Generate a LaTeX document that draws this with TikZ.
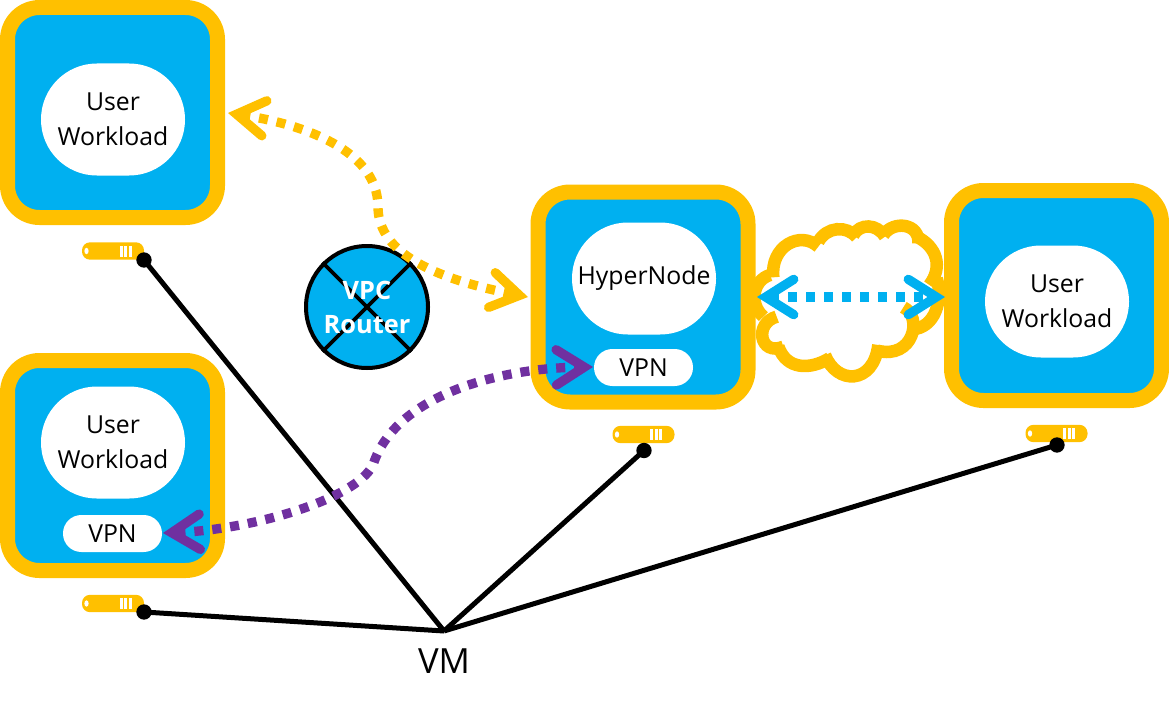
\documentclass[tikz,border=0pt]{standalone}
\usepackage{fontspec}
\setmainfont{Open Sans}
\usetikzlibrary{arrows.meta,calc}
\definecolor{ygold}{HTML}{FFC000}
\definecolor{cblue}{HTML}{00B0F0}
\definecolor{vpurple}{HTML}{7030A0}
\tikzset{
  hostbox/.style={draw=ygold,fill=cblue,line width=11.25pt,rounded corners=24pt,minimum width=157.5pt,minimum height=157.5pt,inner sep=0pt},
  blob/.style={fill=white,rounded corners=41.9pt,minimum width=108pt,minimum height=84pt,inner sep=0pt,align=center,font=\fontsize{18.6}{26}\selectfont},
  pill/.style={fill=white,rounded corners=13.8pt,minimum width=74.25pt,minimum height=27.75pt,inner sep=0pt,font=\fontsize{18.6}{24}\selectfont},
  chev/.tip={Straight Barb[length=21pt,width=26.5pt,line width=7pt,line cap=round,line join=miter]},
  flow/.style={line width=7pt,dash pattern=on 6.8pt off 6.7pt},
  wire/.style={line width=3.75pt,black},
  dot/.style={circle,fill=black,minimum size=11.5pt,inner sep=0pt},
  serverbody/.style={fill=ygold,rounded corners=6pt,minimum width=46.5pt,minimum height=13pt,inner sep=0pt},
  lobe/.style={draw=ygold,line width=9.4pt},
  routerdisc/.style={circle,draw=black,fill=cblue,line width=3pt,minimum size=91.5pt,inner sep=0pt},
  routertext/.style={text=white,align=center,font=\fontsize{19}{26}\selectfont\bfseries,inner sep=0pt}
}
\newcommand{\serverbars}[1]{%
  \fill[white] ($(#1)+(-26.5,0)$) ellipse[x radius=1.6pt,y radius=2.4pt];
  \foreach \dx in {8,12.6,17.2}{\fill[white] ($(#1)+(\dx-1.5,-5.5)$) rectangle ($(#1)+(\dx+1.5,5.5)$);}
}
\begin{document}
\begin{tikzpicture}[x=.75pt,y=-.75pt]
\useasboundingbox (0,0) rectangle (1169,706);
% cloud
\begin{scope}[xshift=555pt,yshift=-150pt,x=.25pt,y=-.25pt]
  \draw[lobe] (100,232) .. controls (90,140) and (180,90) .. (235,140);
  \draw[lobe] (235,125) .. controls (260,80) and (320,75) .. (350,112);
  \draw[lobe] (340,105) .. controls (360,70) and (410,70) .. (435,110);
  \draw[lobe] (430,105) .. controls (460,60) and (540,70) .. (535,130);
  \draw[lobe] (530,110) .. controls (590,140) and (610,200) .. (568,255);
  \draw[lobe] (590,235) .. controls (610,300) and (585,385) .. (515,388);
  \draw[lobe] (490,322) .. controls (550,350) and (520,480) .. (412,452);
  \draw[lobe] (415,435) .. controls (400,555) and (290,555) .. (255,465);
  \draw[lobe] (268,475) .. controls (210,510) and (140,510) .. (115,440);
  \draw[lobe] (130,440) .. controls (60,470) and (40,370) .. (110,350);
  \draw[lobe] (90,225) .. controls (40,240) and (25,310) .. (70,350);
\end{scope}
% hosts
\node[hostbox] (hostA) at (112.5,112.5) {};
\node[hostbox] (hostB) at (112.5,465.5) {};
\node[hostbox] (hostC) at (643,297) {};
\node[hostbox] (hostD) at (1056.5,295.5) {};
\node[blob] (workA) at (113,119.5) {User\\Workload};
\node[blob] (workB) at (113,442.5) {User\\Workload};
\node[blob] (hyper) at (644,278.5) {HyperNode};
\node[blob] (workD) at (1057,301.5) {User\\Workload};
\node[pill] (vpnB) at (112.5,533.5) {VPN};
\node[pill] (vpnC) at (643.5,367.5) {VPN};
% router
\node[routerdisc] (router) at (367,307) {};
\draw[line width=2.7pt] (router.north west) -- (router.south east);
\draw[line width=2.7pt] (router.north east) -- (router.south west);
\node[routertext] (routerlabel) at (367,307.5) {VPC\\Router};
% servers
\node[serverbody] (srvA) at (113,251) {};
\node[serverbody] (srvB) at (113,603.5) {};
\node[serverbody] (srvC) at (643.5,434.5) {};
\node[serverbody] (srvD) at (1056.5,433.5) {};
\serverbars{srvA}\serverbars{srvB}\serverbars{srvC}\serverbars{srvD}
\node[dot] (dotA) at (144,260) {};
\node[dot] (dotB) at (144,612) {};
\node[dot] (dotC) at (644,450.5) {};
\node[dot] (dotD) at (1057,445) {};
\coordinate (hub) at (444,631);
\draw[wire] (hub) -- (dotA.center);
\draw[wire] (hub) -- (dotB.center);
\draw[wire] (hub) -- (dotC.center);
\draw[wire] (hub) -- (dotD.center);
\node[font=\fontsize{26}{30}\selectfont,inner sep=0pt] (vm) at (444,661) {VM};
% flows
\coordinate (yA) at (228,113);
\coordinate (yB) at (528,297);
\coordinate (pA) at (163,533);
\coordinate (pB) at (593,367);
\coordinate (bA) at (757,297);
\coordinate (bB) at (945,297);
\draw[flow,draw=ygold,{chev}-{chev}] (yA) .. controls (290,122) and (378,145) .. (378,207) .. controls (378,255) and (440,280) .. (yB);
\draw[flow,draw=vpurple,{chev}-{chev}] (pA) .. controls (250,530) and (355,500) .. (373,465) .. controls (395,395) and (500,368) .. (pB);
\draw[flow,draw=cblue,{chev}-{chev}] (bA) -- (bB);
\end{tikzpicture}
\end{document}
